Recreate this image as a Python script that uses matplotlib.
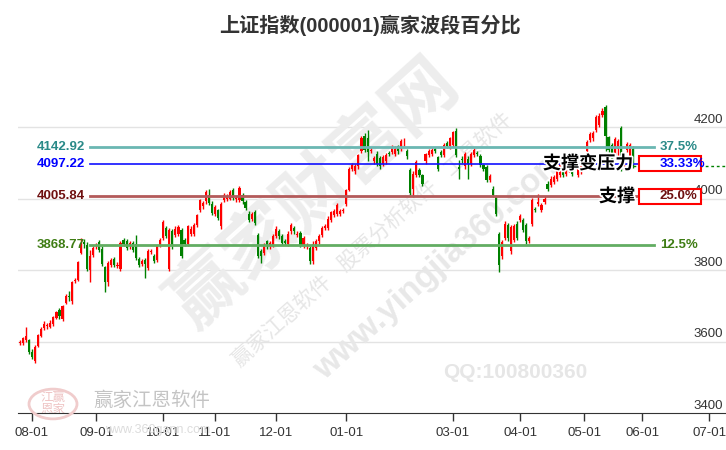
import numpy as np
import matplotlib.pyplot as plt
from matplotlib.patches import Rectangle, Circle
import matplotlib.patheffects as pe

plt.rcParams['font.family'] = ['Liberation Sans', 'Noto Sans CJK SC', 'DejaVu Sans']

W, H = 726, 450

# daily candles (index 0 = 2025-07-28)
opens = [3596, 3596, 3604, 3604, 3572, 3546, 3588, 3616, 3638, 3643,
         3642, 3648, 3666, 3688, 3662, 3708, 3728, 3712, 3770, 3772,
         3848, 3878, 3870, 3800, 3842, 3866, 3878, 3860, 3808, 3766,
         3814, 3830, 3812, 3802, 3884, 3880, 3866, 3876, 3874, 3830,
         3818, 3828, 3806, 3851, 3840, 3828, 3870, 3890, 3918, 3802,
         3910, 3898, 3900, 3912, 3884, 3872, 3900, 3900, 3926, 3968,
         3978, 3992, 4010, 3986, 3956, 3968, 3922, 3996, 4000, 4000,
         4024, 3998, 3996, 4010, 3990, 3958, 3942, 3962, 3898, 3852,
         3848, 3880, 3866, 3870, 3894, 3908, 3896, 3880, 3872, 3908,
         3918, 3898, 3904, 3868, 3866, 3862, 3824, 3862, 3880, 3898,
         3918, 3918, 3940, 3954, 3958, 3956, 3966, 3986, 4024, 4084,
         4076, 4090, 4134, 4176, 4168, 4134, 4104, 4126, 4114, 4098,
         4104, 4128, 4130, 4126, 4146, 4140, 4154, 4134, 4080, 4028,
         4066, 4080, 4066, 4104, 4122, 4126, 4138, 4116, 4131, 4122,
         4156, 4146, 4150, 4190, 4089, 4112, 4090, 4112, 4098, 4122,
         4128, 4118, 4094, 4088, 4052, 4028, 4004, 3902, 3838, 3890,
         3926, 3852, 3884, 3930, 3940, 3940, 3926, 3882, 3930, 3970,
         3986, 3968, 3990, 4042, 4038, 4046, 4056, 4066, 4080, 4070,
         4080, 4080, 4089, 4066, 4076, 4103, 4132, 4164, 4168, 4192,
         4206, 4234, 4256, 4172, 4150, 4122, 4140, 4196, 4090, 4136,
         4112, 4140]
highs = [3603, 3614, 3640, 3608, 3578, 3590, 3622, 3640, 3656, 3652,
         3660, 3672, 3686, 3694, 3702, 3734, 3740, 3770, 3778, 3826,
         3890, 3888, 3878, 3856, 3866, 3876, 3884, 3866, 3812, 3826,
         3834, 3836, 3822, 3880, 3890, 3886, 3882, 3882, 3898, 3836,
         3832, 3834, 3858, 3860, 3846, 3870, 3890, 3940, 3924, 3918,
         3916, 3922, 3926, 3918, 3890, 3926, 3922, 3932, 3958, 4000,
         3992, 4024, 4028, 3992, 3982, 3972, 3990, 4016, 4012, 4024,
         4030, 4008, 4034, 4016, 3996, 3964, 3962, 3968, 3904, 3858,
         3876, 3884, 3882, 3900, 3922, 3914, 3900, 3886, 3908, 3932,
         3924, 3908, 3910, 3896, 3876, 3868, 3880, 3886, 3900, 3924,
         3930, 3950, 3966, 3970, 3988, 3972, 3974, 4028, 4088, 4100,
         4098, 4126, 4174, 4182, 4192, 4144, 4120, 4132, 4118, 4122,
         4128, 4134, 4150, 4146, 4150, 4166, 4168, 4140, 4086, 4076,
         4108, 4086, 4070, 4128, 4138, 4142, 4144, 4120, 4136, 4154,
         4162, 4172, 4190, 4198, 4108, 4120, 4130, 4118, 4130, 4142,
         4134, 4124, 4098, 4094, 4068, 4034, 4010, 3906, 3884, 3936,
         3932, 3926, 3928, 3936, 3956, 3946, 3932, 3896, 4002, 3976,
         4012, 3988, 4006, 4048, 4062, 4066, 4086, 4100, 4086, 4090,
         4108, 4086, 4104, 4108, 4106, 4118, 4164, 4186, 4190, 4234,
         4238, 4252, 4262, 4176, 4156, 4172, 4166, 4202, 4108, 4158,
         4156, 4148]
lows = [3590, 3590, 3600, 3566, 3552, 3540, 3584, 3612, 3632, 3636,
        3638, 3644, 3662, 3664, 3656, 3704, 3712, 3706, 3764, 3768,
        3844, 3862, 3796, 3766, 3836, 3860, 3850, 3810, 3738, 3756,
        3808, 3808, 3806, 3796, 3866, 3856, 3860, 3850, 3828, 3808,
        3812, 3778, 3800, 3844, 3820, 3822, 3864, 3884, 3890, 3798,
        3860, 3892, 3894, 3834, 3866, 3866, 3894, 3894, 3920, 3962,
        3970, 3986, 3982, 3954, 3950, 3940, 3916, 3990, 3994, 3996,
        3996, 3990, 3990, 3986, 3968, 3934, 3936, 3926, 3834, 3820,
        3842, 3860, 3860, 3864, 3890, 3888, 3870, 3870, 3866, 3902,
        3902, 3892, 3864, 3862, 3860, 3816, 3818, 3856, 3874, 3892,
        3912, 3912, 3934, 3948, 3952, 3950, 3960, 3980, 4020, 4078,
        4070, 4084, 4128, 4130, 4104, 4128, 4098, 4092, 4084, 4092,
        4098, 4120, 4126, 4120, 4126, 4134, 4146, 4112, 4010, 4004,
        4060, 4060, 4034, 4098, 4116, 4120, 4128, 4076, 4116, 4116,
        4142, 4140, 4144, 4116, 4056, 4100, 4084, 4056, 4092, 4116,
        4118, 4088, 4078, 4046, 4046, 4004, 3952, 3795, 3830, 3884,
        3882, 3846, 3878, 3884, 3934, 3906, 3874, 3876, 3924, 3962,
        3980, 3962, 3984, 4022, 4032, 4040, 4050, 4060, 4060, 4064,
        4074, 4064, 4084, 4060, 4070, 4098, 4126, 4158, 4162, 4186,
        4200, 4228, 4132, 4130, 4104, 4116, 4120, 4076, 4084, 4130,
        4106, 4086]
closes = [3598, 3610, 3616, 3572, 3558, 3586, 3618, 3636, 3648, 3646,
          3652, 3668, 3682, 3670, 3698, 3726, 3724, 3766, 3773, 3822,
          3870, 3874, 3802, 3840, 3862, 3871, 3856, 3816, 3766, 3820,
          3828, 3814, 3815, 3875, 3872, 3862, 3876, 3856, 3834, 3815,
          3826, 3818, 3852, 3854, 3826, 3866, 3884, 3934, 3896, 3912,
          3868, 3916, 3920, 3840, 3872, 3922, 3916, 3926, 3954, 3996,
          3987, 4018, 3988, 3960, 3976, 3946, 3984, 4010, 4006, 4018,
          4002, 4001, 4030, 3992, 3974, 3940, 3958, 3932, 3840, 3840,
          3870, 3866, 3875, 3894, 3916, 3894, 3876, 3875, 3902, 3926,
          3908, 3900, 3870, 3890, 3870, 3824, 3874, 3880, 3894, 3918,
          3922, 3944, 3962, 3964, 3982, 3964, 3968, 4024, 4084, 4094,
          4092, 4122, 4168, 4136, 4130, 4137, 4114, 4098, 4090, 4116,
          4122, 4125, 4145, 4140, 4132, 4160, 4156, 4118, 4016, 4070,
          4102, 4066, 4040, 4124, 4132, 4136, 4134, 4082, 4122, 4150,
          4148, 4168, 4186, 4122, 4082, 4109, 4126, 4098, 4126, 4136,
          4125, 4094, 4084, 4052, 4064, 4010, 3958, 3814, 3878, 3930,
          3890, 3920, 3922, 3890, 3950, 3912, 3880, 3891, 3996, 3968,
          3990, 3982, 4000, 4028, 4056, 4060, 4080, 4094, 4066, 4084,
          4102, 4070, 4098, 4102, 4102, 4112, 4158, 4180, 4182, 4228,
          4232, 4246, 4174, 4136, 4112, 4166, 4160, 4082, 4102, 4152,
          4150, 4092]

# month ticks (trading-day index of first session) and labels
tick_pos = [4, 25, 47, 64, 84, 107, 142, 164, 185, 204, 226]
tick_labels = ['08-01', '09-01', '10-01', '11-01', '12-01', '01-01',
               '03-01', '04-01', '05-01', '06-01', '07-01']

# wave levels
levels = [4142.92, 4097.22, 4005.84, 3868.77]
level_pcts = ['37.5%', '33.33%', '25.0%', '12.5%']
line_colors = ['#6ab7b2', '#1010ff', '#b35a5a', '#62ad62']
text_colors = ['#2a8a88', '#0000ff', '#6e1010', '#3f7d14']
line_widths = [2.0, 1.2, 2.0, 2.0]

fig = plt.figure(figsize=(W / 100, H / 100), dpi=100)
ax = fig.add_axes([18 / W, 37 / H, 708 / W, 356 / H])
x0, x1 = -0.6, 231.5
y0, y1 = 3400, 4396
ax.set_xlim(x0, x1)
ax.set_ylim(y0, y1)


def fx(px):  # pixel column -> data x
    return x0 + (px - 18) / 708 * (x1 - x0)


def figpt(px, py):
    return px / W, 1 - py / H


# grid and y labels on the right inside the plot
for g in [3600, 3800, 4000, 4200]:
    ax.axhline(g, color='#e3e3e3', lw=1, zorder=0)
for g in [3400, 3600, 3800, 4000, 4200]:
    ax.text(0.9955, g + 4, str(g), transform=ax.get_yaxis_transform(),
            ha='right', va='bottom', fontsize=9.5, color='#333333', zorder=1)

# watermarks (drawn inside the axes, behind the candles)
wm = dict(transform=fig.transFigure, ha='center', va='center', zorder=0.5, clip_on=False)
ax.text(*figpt(315, 195), '赢家财富网', fontsize=52, fontweight='bold', color='#ededed',
        rotation=42, **wm)
ax.text(*figpt(372, 240), '赢家江恩软件   股票分析软件   工具软件', fontsize=15,
        color='#e6e6e6', rotation=42, **wm)
ax.text(*figpt(440, 265), 'www.yingjia360.com', fontsize=24, fontweight='bold',
        color='#e8e8e8', rotation=42, **wm)
ax.text(*figpt(515, 372), 'QQ:100800360', fontsize=15, fontweight='bold',
        color='#e6e6e6', **wm)
ax.text(*figpt(152, 401), '赢家江恩软件', fontsize=14, color='#c4c4c4', **wm)
fig.text(*figpt(158, 430), 'www.360gann.com', fontsize=9, color='#dcdcdc',
         ha='center', va='center', zorder=0)
fig.patches.append(Circle(figpt(53, 404), 24 / W, transform=fig.transFigure,
                          fill=False, ec='#f0cccc', lw=2, zorder=0))
ax.text(*figpt(53, 404), '江赢\n恩家', fontsize=9, color='#efc4c4',
        linespacing=1.0, **wm)

# candles
idx = np.arange(len(closes))
o = np.array(opens, float)
c = np.array(closes, float)
up = c >= o
cols = np.where(up, '#ff0000', '#008000')
ax.vlines(idx, lows, highs, colors=cols, lw=1, zorder=2)
body = np.maximum(np.abs(c - o), 2.5)
ax.bar(idx, body, bottom=np.minimum(o, c), width=0.7, color=cols, lw=0, zorder=2)

# level lines and labels
lx0, lx1 = fx(90), fx(654)
for lv, pct, lc, tc, lw in zip(levels, level_pcts, line_colors, text_colors, line_widths):
    ax.plot([lx0, lx1], [lv, lv], color=lc, lw=lw, zorder=3)
    ax.text(fx(37), lv, f'{lv:.2f}', ha='left', va='center', fontsize=9.5,
            fontweight='bold', color=tc, zorder=5)
    ax.text(fx(660), lv, pct, ha='left', va='center', fontsize=9.5,
            fontweight='bold', color=tc, zorder=6)

# last price dotted line
ax.plot([idx[-1], x1], [closes[-1], closes[-1]], color='#008000', lw=1,
        ls=(0, (2, 2)), zorder=3)

# red boxes around the highlighted levels
for lv in [levels[1], levels[2]]:
    ax.add_patch(Rectangle((fx(639), lv - 21), fx(701) - fx(639), 42,
                           fc='white', ec='#ff0000', lw=1.5, zorder=5))

halo = [pe.withStroke(linewidth=2.5, foreground='white')]
ax.text(fx(633), levels[1], '支撑变压力', ha='right', va='center', fontsize=13,
        fontweight='bold', color='black', zorder=7, path_effects=halo)
ax.text(fx(635), levels[2] - 2, '支撑', ha='right', va='center', fontsize=13,
        fontweight='bold', color='black', zorder=7, path_effects=halo)

# axes styling
for s in ['top', 'left', 'right']:
    ax.spines[s].set_visible(False)
ax.spines['bottom'].set_color('#333333')
ax.set_yticks([])
ax.set_xticks(tick_pos)
ax.set_xticklabels(tick_labels, fontsize=9.5, color='#333333')
ax.tick_params(axis='x', length=6, width=1, color='#333333', pad=4)

fig.text(*figpt(370, 25), '上证指数(000001)赢家波段百分比', fontsize=14.5,
         fontweight='bold', color='#333333', ha='center', va='center')

fig.savefig('out.png', dpi=100)
